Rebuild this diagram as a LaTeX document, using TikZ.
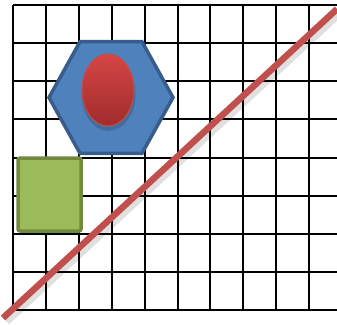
\documentclass[tikz,border=0pt]{standalone}
\usepackage{xcolor}
\usepackage{tikz}
\usetikzlibrary{shapes.geometric}

\definecolor{hexfill}{HTML}{4F81BD}
\definecolor{hexline}{HTML}{385D8A}
\definecolor{ovtop}{HTML}{D64545}
\definecolor{ovbot}{HTML}{A02C2C}
\definecolor{ovline}{HTML}{C0504D}
\definecolor{sqfill}{HTML}{9BBB59}
\definecolor{sqline}{HTML}{71893F}
\definecolor{diag}{HTML}{C0504D}

\begin{document}
\begin{tikzpicture}[x=1pt,y=-1pt,
  gridline/.style={line width=2pt,black},
  hex/.style={regular polygon,regular polygon sides=6,draw=hexline,fill=hexfill,line width=3.5pt,minimum size=124pt,inner sep=0pt,yscale=1.04},
  oval/.style={ellipse,draw=ovline,line width=1pt,top color=ovtop,bottom color=ovbot,minimum width=52pt,minimum height=72pt,inner sep=0pt},
  box/.style={rectangle,draw=sqline,fill=sqfill,line width=3.5pt,rounded corners=2pt,minimum width=63pt,minimum height=73pt,inner sep=0pt},
  redline/.style={line width=6.5pt,diag},
  shade/.style={line width=9pt,black,opacity=0.12}]
 \useasboundingbox (0,0) rectangle (337,324);
 % grid
 \foreach \i in {0,...,9} \draw[gridline] (13+32.9*\i,5) -- (13+32.9*\i,310);
 \foreach \j in {0,...,8} \draw[gridline] (13,5+38.125*\j) -- (337,5+38.125*\j);
 % shapes
 \node[hex,transform shape] (hexa) at (111,97.5) {};
 \fill[black,opacity=0.15] (108.5,94) ellipse (27pt and 37pt);
 \node[oval] (egg) at (108,90) {};
 \node[box] (sq) at (49.5,194.5) {};
 % diagonal
 \coordinate (lo) at (3,318);
 \coordinate (hi) at (337,9);
 \draw[shade] ([shift={(3,3)}]lo) -- ([shift={(3,3)}]hi);
 \draw[redline] (lo) -- (hi);
\end{tikzpicture}
\end{document}
